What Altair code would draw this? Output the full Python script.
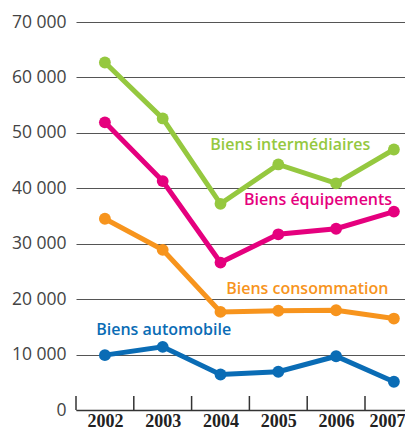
import altair as alt
import pandas as pd

years = [2002, 2003, 2004, 2005, 2006, 2007]
intermediaires = [62700, 52600, 37200, 44300, 40900, 47000]
equipements = [51900, 41300, 26600, 31700, 32700, 35800]
consommation = [34500, 28900, 17700, 17900, 18000, 16500]
automobile = [9900, 11400, 6400, 6900, 9700, 5100]

series_names = ["Biens intermédiaires", "Biens équipements", "Biens consommation", "Biens automobile"]
series_values = [intermediaires, equipements, consommation, automobile]
colors = ["#95c83f", "#e5007e", "#f7941d", "#0a6cb5"]

label_years = [2005, 2006, 2005, 2003]
label_values = [47800, 37950, 21830, 14430]
label_dx = [12, -18, 29, 1]

y_ticks = [0, 10000, 20000, 30000, 40000, 50000, 60000, 70000]

rows = []
for name, vals in zip(series_names, series_values):
    for yr, v in zip(years, vals):
        rows.append({"year": yr, "value": v, "series": name})
df = pd.DataFrame(rows)

PLOT_W = 329
STEP = 57.8
x_scale = alt.Scale(domain=[2001.5, 2001.5 + PLOT_W / STEP], nice=False, zero=False)
y_scale = alt.Scale(domain=[0, 70000], nice=False)

x_axis = alt.Axis(
    title=None, values=years, format="d", labelAngle=0, ticks=False, tickSize=0,
    grid=False, domain=True, domainColor="#333333", domainWidth=1.5,
    labelFont="Liberation Serif", labelFontWeight="bold", labelFontSize=18,
    labelColor="#222222", labelPadding=2, labelFlush=12, labelFlushOffset=11,
    labelOverlap=False,
)
x_enc = alt.X("year:Q", scale=x_scale, axis=x_axis)
y_enc = alt.Y(
    "value:Q",
    scale=y_scale,
    axis=alt.Axis(
        title=None, values=y_ticks, domain=False, ticks=False, grid=True,
        gridColor="#555555", gridWidth=1,
        labelFont="Open Sans", labelFontSize=17.5, labelColor="#444444",
        labelPadding=10, labelExpr="replace(format(datum.value, ','), ',', ' ')",
    ),
)
color_enc = alt.Color(
    "series:N",
    scale=alt.Scale(domain=series_names, range=colors),
    legend=None,
)

base = alt.Chart(df)
lines = base.mark_line(strokeWidth=5).encode(x=x_enc, y=y_enc, color=color_enc, detail="series:N")
points = base.mark_circle(size=140, opacity=1).encode(x=x_enc, y=y_enc, color=color_enc)

ticks_df = pd.DataFrame({"year": years})
tick_rules = alt.Chart(ticks_df).transform_calculate(
    edge="datum.year - 0.5"
).mark_rule(color="#333333", strokeWidth=1.5).encode(
    x=alt.X("edge:Q", scale=x_scale),
    y=alt.value(374),
    y2=alt.value(388),
)

layers = [lines, points, tick_rules]
for name, col, yr, v, dx in zip(series_names, colors, label_years, label_values, label_dx):
    ldf = pd.DataFrame({"year": [yr], "value": [v], "label": [name]})
    layers.append(
        alt.Chart(ldf).mark_text(
            dx=dx, align="center", baseline="middle", font="Open Sans",
            fontSize=16, fontWeight=600, color=col,
        ).encode(x=alt.X("year:Q", scale=x_scale), y=alt.Y("value:Q", scale=y_scale), text="label:N")
    )

chart = alt.layer(*layers).properties(
    width=PLOT_W, height=388,
    autosize=alt.AutoSizeParams(type="none"),
    padding={"left": 68, "top": 14, "right": 0, "bottom": 21},
).configure_view(stroke=None)

chart.save("out.html", embed_options={"renderer": "svg", "actions": False})
